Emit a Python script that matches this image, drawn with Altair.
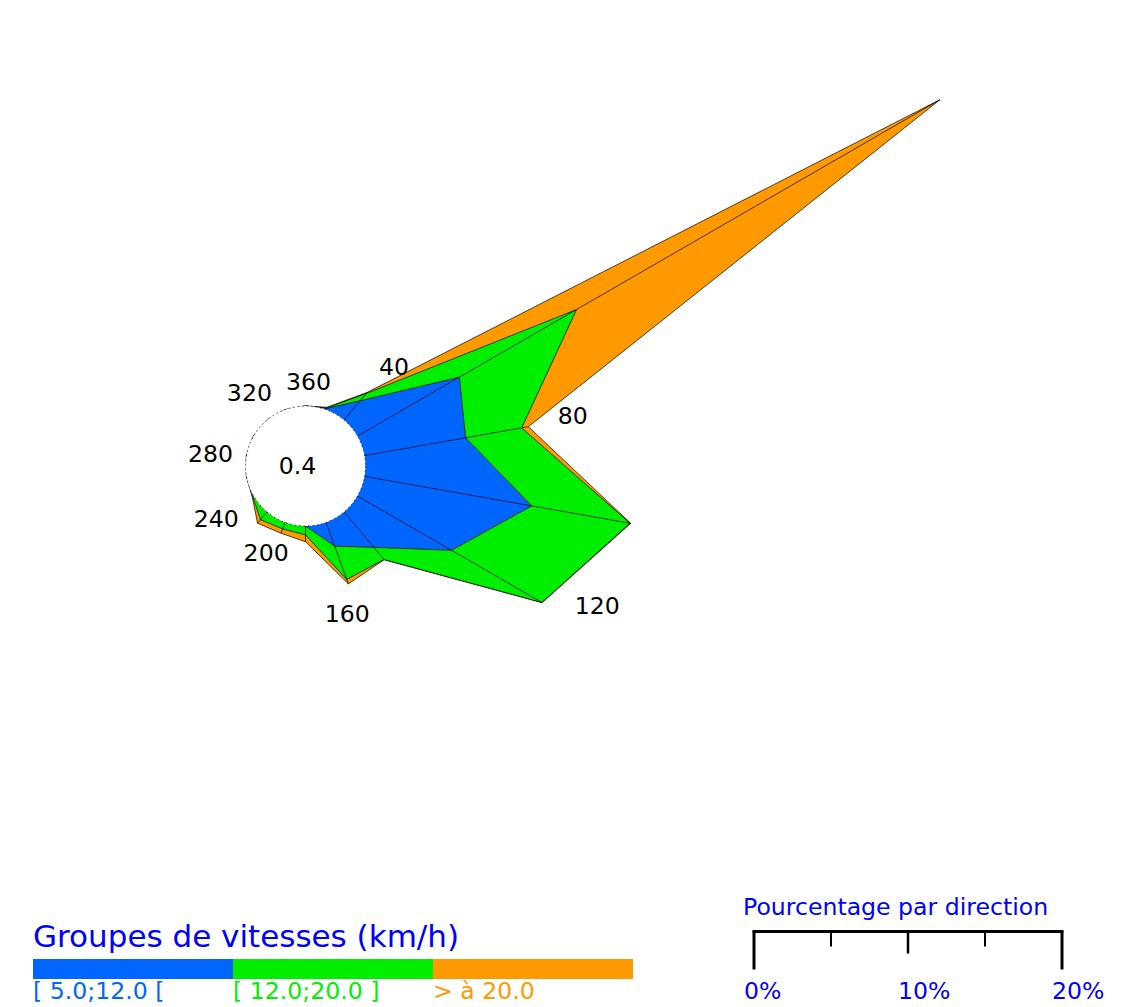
import math
import altair as alt
import pandas as pd

# ---------------- data (percent of observations per direction) ----------------
directions = [20, 40, 60, 80, 100, 120, 140, 160, 180, 200, 220, 240, 260, 280, 300, 320, 340, 360]
pct_5_12 = [0.08, 1.64, 7.64, 6.66, 11.02, 7.05, 3.00, 1.64, 0.0, 0.0, 0.0, 0.0, 0.0, 0.0, 0.0, 0.0, 0.0, 0.0]
pct_12_20 = [0.04, 0.61, 8.79, 3.70, 6.48, 6.78, 1.03, 2.30, 0.58, 0.45, 0.65, 0.06, 0.0, 0.0, 0.0, 0.0, 0.0, 0.0]
pct_gt_20 = [0.04, 0.10, 27.24, 0.44, 0.05, 0.02, 0.02, 0.31, 0.44, 0.30, 0.30, 0.04, 0.0, 0.0, 0.0, 0.0, 0.0, 0.0]
calm_pct = 0.4
calm_label = "0.4"

class_labels = ["[ 5.0;12.0 [", "[ 12.0;20.0 ]", "> à 20.0"]
class_colors = ["#0066ff", "#00ee00", "#ff9900"]
legend_title = "Groupes de vitesses (km/h)"

label_dirs = [40, 80, 120, 160, 200, 240, 280, 320, 360]
scale_title = "Pourcentage par direction"
scale_ticks = [0, 5, 10, 15, 20]
scale_labels = [(0, "0%"), (10, "10%"), (20, "20%")]

# ---------------- geometry / layout ----------------
PX = 15.4             # pixels per percent
R0 = 60 / PX          # calm circle radius, in percent units
W, H = 1118, 996
CX, CY = 297.5, 458   # rose centre in chart pixels
xdom = [-CX / PX, (W - CX) / PX]
ydom = [(CY - H) / PX, CY / PX]
FONT = "DejaVu Sans"
TITLE_BLUE = "#0000ff"
FS = 23.6
# small pixel nudges for direction labels (dx right, dy down)
label_nudge = {40: (8, -2), 80: (16, -5), 120: (24, -14), 160: (-11, 4), 200: (-5, -6),
               240: (-5, 5), 280: (-1, 6), 320: (4, 0), 360: (3, -1)}


def ux(px):
    return xdom[0] + px / PX


def uy(py):
    return ydom[1] - py / PX


XS = alt.Scale(domain=xdom, nice=False, zero=False)
YS = alt.Scale(domain=ydom, nice=False, zero=False)

# cumulative stacks
cum1 = pct_5_12
cum2 = [a + b for a, b in zip(pct_5_12, pct_12_20)]
cum3 = [a + b + c for a, b, c in zip(pct_5_12, pct_12_20, pct_gt_20)]


def polar(r, d):
    t = math.radians(d)
    return r * math.sin(t), r * math.cos(t)


def poly_df(cum):
    rows = []
    for i, (d, c) in enumerate(zip(directions, cum)):
        x, y = polar(R0 + c, d)
        rows.append({"dir": d, "ord": i, "x": x, "y": y})
    return pd.DataFrame(rows)


def poly_layer(cum, color):
    return alt.Chart(poly_df(cum)).mark_line(
        interpolate="linear-closed", fill=color, stroke="black",
        strokeWidth=0.7, filled=True
    ).encode(
        x=alt.X("x:Q", scale=XS, axis=None),
        y=alt.Y("y:Q", scale=YS, axis=None),
        order="ord:O",
    )


layers = [
    poly_layer(cum3, class_colors[2]),
    poly_layer(cum2, class_colors[1]),
    poly_layer(cum1, class_colors[0]),
]

# radial lines
rad_rows = []
for d, c in zip(directions, cum3):
    x0, y0 = polar(R0, d)
    x1, y1 = polar(R0 + c, d)
    rad_rows.append({"x": x0, "y": y0, "x2": x1, "y2": y1})
layers.append(
    alt.Chart(pd.DataFrame(rad_rows)).mark_rule(color="black", strokeWidth=0.7).encode(
        x=alt.X("x:Q", scale=XS, axis=None), y=alt.Y("y:Q", scale=YS, axis=None),
        x2="x2:Q", y2="y2:Q",
    )
)

# calm circle
calm_df = pd.DataFrame([{"x": 0.0, "y": 0.0, "t": calm_label, "v": calm_pct}])
layers.append(
    alt.Chart(calm_df).mark_point(
        shape="circle", size=(2 * R0 * PX) ** 2, filled=True, fill="white",
        stroke="black", strokeWidth=0.7, strokeDash=[1.5, 3], opacity=1,
    ).encode(x=alt.X("x:Q", scale=XS, axis=None), y=alt.Y("y:Q", scale=YS, axis=None))
)
layers.append(
    alt.Chart(calm_df).mark_text(
        font=FONT, fontSize=FS, color="black", align="center", baseline="middle", dx=-8, dy=1
    ).encode(x=alt.X("x:Q", scale=XS, axis=None), y=alt.Y("y:Q", scale=YS, axis=None), text="t:N")
)

# direction labels
lab_rows = []
for d in label_dirs:
    c = cum3[directions.index(d)]
    t = str(d)
    th = math.radians(d)
    w = len(t) * 13.5
    h = 17
    r_px = (R0 + c) * PX + 14 + abs(math.sin(th)) * w / 2 + abs(math.cos(th)) * h / 2
    x, y = polar(r_px / PX, d)
    ndx, ndy = label_nudge.get(d, (0, 0))
    lab_rows.append({"x": x + ndx / PX, "y": y - ndy / PX, "t": t})
layers.append(
    alt.Chart(pd.DataFrame(lab_rows)).mark_text(
        font=FONT, fontSize=FS, color="black", align="center", baseline="middle"
    ).encode(x=alt.X("x:Q", scale=XS, axis=None), y=alt.Y("y:Q", scale=YS, axis=None), text="t:N")
)

# ---------------- speed-class legend ----------------
leg_rows = []
for i, (lab, col) in enumerate(zip(class_labels, class_colors)):
    leg_rows.append({
        "x": ux(25 + 200 * i), "x2": ux(25 + 200 * (i + 1)),
        "y": uy(951), "y2": uy(971), "lab": lab, "col": col,
        "tx": ux(25 + 200 * i), "ty": uy(991),
    })
leg_df = pd.DataFrame(leg_rows)
color_scale = alt.Scale(domain=class_labels, range=class_colors)
layers.append(
    alt.Chart(leg_df).mark_rect().encode(
        x=alt.X("x:Q", scale=XS, axis=None), x2="x2:Q",
        y=alt.Y("y:Q", scale=YS, axis=None), y2="y2:Q",
        fill=alt.Fill("lab:N", scale=color_scale, legend=None),
    )
)
layers.append(
    alt.Chart(leg_df).mark_text(
        font=FONT, fontSize=FS, align="left", baseline="alphabetic"
    ).encode(
        x=alt.X("tx:Q", scale=XS, axis=None), y=alt.Y("ty:Q", scale=YS, axis=None),
        text="lab:N", color=alt.Color("lab:N", scale=color_scale, legend=None),
    )
)
layers.append(
    alt.Chart(pd.DataFrame([{"x": ux(25), "y": uy(938.5), "t": legend_title}])).mark_text(
        font=FONT, fontSize=31, align="left", baseline="alphabetic", color=TITLE_BLUE
    ).encode(x=alt.X("x:Q", scale=XS, axis=None), y=alt.Y("y:Q", scale=YS, axis=None), text="t:N")
)

# ---------------- percentage scale bar ----------------
sx0 = ux(746)
bar_y = uy(923.5)
tick_len = {0: 38, 5: 15, 10: 22, 15: 15, 20: 38}
tick_w = {0: 3, 5: 2, 10: 2.5, 15: 2, 20: 3}
tick_rows = [{"x": sx0 + p, "y": bar_y, "y2": bar_y - tick_len[p] / PX, "w": tick_w[p]} for p in scale_ticks]
layers.append(
    alt.Chart(pd.DataFrame([{"x": sx0, "x2": sx0 + scale_ticks[-1], "y": bar_y}])).mark_rule(
        color="black", strokeWidth=3, strokeCap="square"
    ).encode(x=alt.X("x:Q", scale=XS, axis=None), x2="x2:Q", y=alt.Y("y:Q", scale=YS, axis=None))
)
layers.append(
    alt.Chart(pd.DataFrame(tick_rows)).mark_rule(color="black").encode(
        x=alt.X("x:Q", scale=XS, axis=None), y=alt.Y("y:Q", scale=YS, axis=None), y2="y2:Q",
        strokeWidth=alt.StrokeWidth("w:Q", scale=None, legend=None),
    )
)
layers.append(
    alt.Chart(pd.DataFrame([{"x": sx0 + p, "y": uy(991), "t": t} for p, t in scale_labels])).mark_text(
        font=FONT, fontSize=FS, align="left", baseline="alphabetic", color=TITLE_BLUE, dx=-10
    ).encode(x=alt.X("x:Q", scale=XS, axis=None), y=alt.Y("y:Q", scale=YS, axis=None), text="t:N")
)
layers.append(
    alt.Chart(pd.DataFrame([{"x": ux(735), "y": uy(907), "t": scale_title}])).mark_text(
        font=FONT, fontSize=FS, align="left", baseline="alphabetic", color=TITLE_BLUE
    ).encode(x=alt.X("x:Q", scale=XS, axis=None), y=alt.Y("y:Q", scale=YS, axis=None), text="t:N")
)

chart = alt.layer(*layers).properties(
    width=W, height=H, padding=0, autosize=alt.AutoSizeParams(type="none"), background="white"
).configure_view(stroke=None)

chart.save("out.html", embed_options={"renderer": "svg", "actions": False})
